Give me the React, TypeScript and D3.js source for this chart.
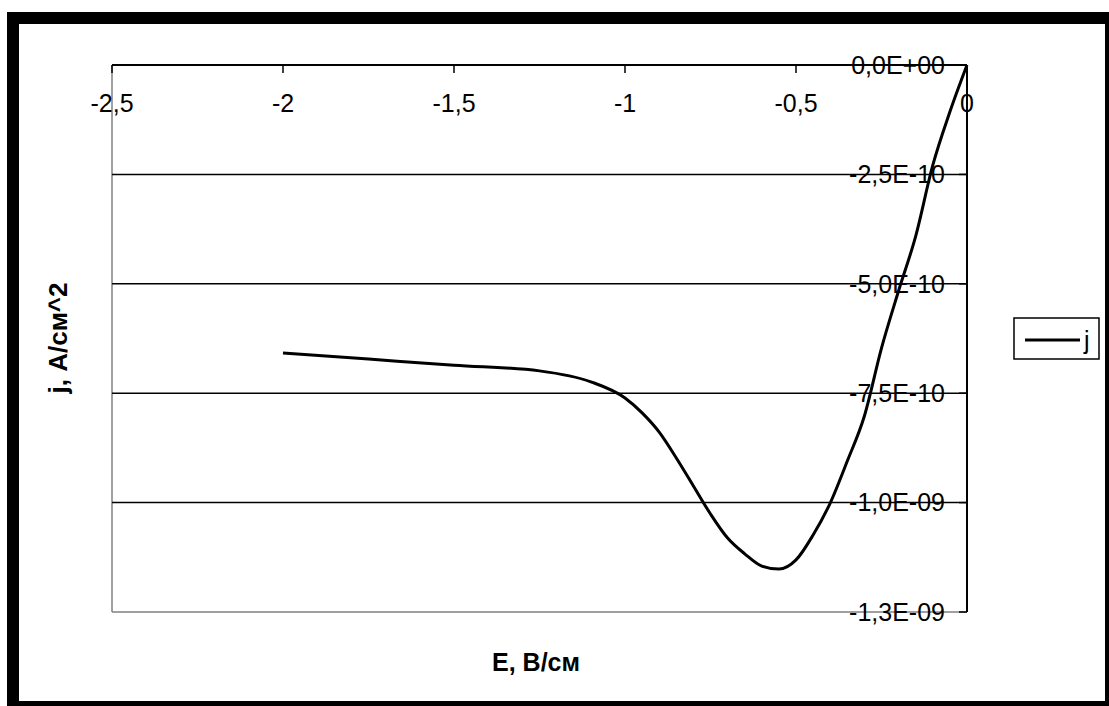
import React from "react";
import * as d3 from "d3";

const E_VALUES = [-2.0, -1.75, -1.5, -1.25, -1.1, -1.0, -0.95, -0.9, -0.85, -0.8, -0.75, -0.7, -0.65, -0.6, -0.55, -0.5, -0.45, -0.4, -0.35, -0.3, -0.25, -0.2, -0.15, -0.1, -0.05, 0];
const J_VALUES = [-6.58e-10, -6.72e-10, -6.86e-10, -6.99e-10, -7.24e-10, -7.61e-10, -7.95e-10, -8.39e-10, -8.98e-10, -9.62e-10, -1.026e-9, -1.081e-9, -1.117e-9, -1.145e-9, -1.152e-9, -1.131e-9, -1.074e-9, -1.001e-9, -9.05e-10, -8.02e-10, -6.47e-10, -5.16e-10, -3.91e-10, -2.29e-10, -1.07e-10, 0];
const X_TICKS = [-2.5, -2, -1.5, -1, -0.5, 0];
const Y_TICKS = [0, -2.5e-10, -5e-10, -7.5e-10, -1e-9, -1.25e-9];
const SERIES_NAME = "j";
const X_TITLE = "E, В/см";
const Y_TITLE = "j, А/см^2";

const FONT = "Arial, 'Liberation Sans', sans-serif";

function fmtX(v: number) {
  return String(v).replace(".", ",");
}
function fmtY(v: number) {
  if (v === 0) return "0,0E+00";
  const s = v.toExponential(1);
  const [m, e] = s.split("e");
  const expNum = parseInt(e, 10);
  const sign = expNum < 0 ? "-" : "+";
  const abs = Math.abs(expNum).toString().padStart(2, "0");
  return m.replace(".", ",") + "E" + sign + abs;
}

export default function App() {
  const left = 112, right = 967, top = 65, bottom = 612;
  const x = d3.scaleLinear().domain([-2.5, 0]).range([left, right]);
  const y = d3.scaleLinear().domain([-1.25e-9, 0]).range([bottom, top]);
  const data = E_VALUES.map((e, i) => ({ e, j: J_VALUES[i] }));
  const line = d3.line<{ e: number; j: number }>().x(d => x(d.e)).y(d => y(d.j)).curve(d3.curveMonotoneX);

  return (
    <svg width={1109} height={706} style={{ position: "absolute", left: 0, top: 0 }} fontFamily={FONT}>
      <rect x={0} y={0} width={1109} height={706} fill="#fff" />
      <rect x={7} y={12} width={1102} height={694} fill="#000" />
      <rect x={19} y={24} width={1086} height={677} fill="#fff" />

      {/* plot area border */}
      <line x1={left} y1={top} x2={left} y2={bottom} stroke="#808080" strokeWidth={1.5} />
      <line x1={left} y1={bottom} x2={right} y2={bottom} stroke="#808080" strokeWidth={1.5} />

      {/* gridlines */}
      {Y_TICKS.filter(t => t !== 0 && t !== -1.25e-9).map(t => (
        <line key={t} x1={left} x2={right} y1={y(t)} y2={y(t)} stroke="#000" strokeWidth={1.5} />
      ))}

      {/* y tick labels */}
      {Y_TICKS.map(t => (
        <text key={"yl" + t} x={945} y={y(t)} dy="0.35em" textAnchor="end" fontSize={25} fill="#000">{fmtY(t)}</text>
      ))}
      {Y_TICKS.map(t => (
        <line key={"yt" + t} x1={right - 8} x2={right} y1={y(t)} y2={y(t)} stroke="#000" strokeWidth={1.5} />
      ))}

      {/* x axis at top */}
      <line x1={left} x2={right} y1={top} y2={top} stroke="#000" strokeWidth={2} />
      {X_TICKS.map(t => (
        <g key={"x" + t}>
          <line x1={x(t)} x2={x(t)} y1={top} y2={top + 8} stroke="#000" strokeWidth={1.5} />
          <text x={x(t)} y={103} dy="0.35em" textAnchor="middle" fontSize={25} fill="#000">{fmtX(t)}</text>
        </g>
      ))}

      {/* y axis at right */}
      <line x1={right} x2={right} y1={top} y2={bottom} stroke="#000" strokeWidth={2} />

      {/* curve */}
      <path d={line(data) || ""} fill="none" stroke="#000" strokeWidth={3} />

      {/* titles */}
      <text x={536} y={662} dy="0.35em" textAnchor="middle" fontSize={25} fontWeight="bold" fill="#000">{X_TITLE}</text>
      <text transform="translate(58,338) rotate(-90)" dy="0.35em" textAnchor="middle" fontSize={26} fontWeight="bold" fill="#000">{Y_TITLE}</text>

      {/* legend */}
      <rect x={1014} y={318} width={85} height={41} fill="#fff" stroke="#000" strokeWidth={1.5} />
      <line x1={1025} x2={1080} y1={340} y2={340} stroke="#000" strokeWidth={3} />
      <text x={1084} y={340} dy="0.35em" fontSize={25} fill="#000">{SERIES_NAME}</text>
    </svg>
  );
}
